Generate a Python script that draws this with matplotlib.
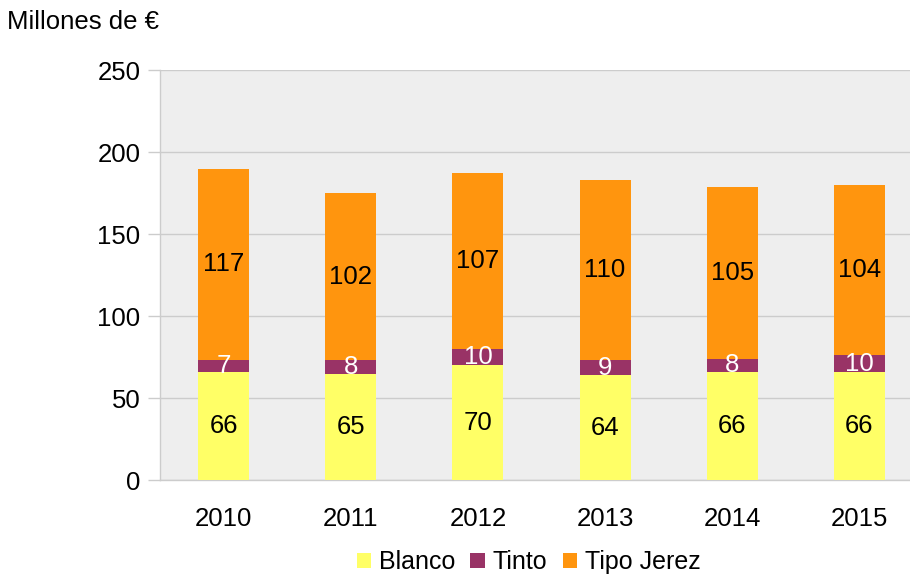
import matplotlib
matplotlib.use("Agg")
import matplotlib.pyplot as plt
import numpy as np

plt.rcParams['font.family'] = ['Liberation Sans', 'DejaVu Sans']

years = ['2010', '2011', '2012', '2013', '2014', '2015']
blanco = [66, 65, 70, 64, 66, 66]
tinto = [7, 8, 10, 9, 8, 10]
jerez = [117, 102, 107, 110, 105, 104]
series_names = ['Blanco', 'Tinto', 'Tipo Jerez']
colors = ['#FFFF66', '#993366', '#FF950E']
label_colors = ['black', 'white', 'black']

FS = 18.5
fig = plt.figure(figsize=(9.1, 5.75), dpi=100)
ax = fig.add_axes([0.1758, 0.165, 0.8385, 0.713])
ax.set_facecolor('#EEEEEE')

x = np.arange(len(years))
bottom = np.zeros(len(years))
handles = []
for vals, c, lc, name in zip([blanco, tinto, jerez], colors, label_colors, series_names):
    vals = np.array(vals, dtype=float)
    bars = ax.bar(x, vals, 0.4, bottom=bottom, color=c, label=name, zorder=3)
    handles.append(bars)
    for xi, b, v in zip(x, bottom, vals):
        ax.text(xi, b + v / 2, f'{int(v)}', ha='center', va='center',
                color=lc, fontsize=FS, zorder=4)
    bottom += vals

ax.set_xlim(-0.5, len(years) - 0.5)
ax.set_ylim(0, 250)
ax.set_yticks([0, 50, 100, 150, 200, 250])
ax.set_xticks(x)
ax.set_xticklabels(years)
ax.yaxis.grid(True, color='#CCCCCC', linewidth=1.0, zorder=0)
ax.set_axisbelow(True)
for s in ['top', 'right']:
    ax.spines[s].set_visible(False)
for s in ['left', 'bottom']:
    ax.spines[s].set_color('#CCCCCC')
    ax.spines[s].set_linewidth(1.0)
ax.tick_params(axis='y', length=9, width=1.0, color='#CCCCCC', labelsize=FS, pad=5)
ax.tick_params(axis='x', length=0, labelsize=FS, pad=19)

fig.text(0.008, 0.962, 'Millones de €', fontsize=FS, ha='left', va='center')

fig.legend(handles=handles, labels=series_names, loc='center', bbox_to_anchor=(0.581, 0.022),
           ncol=3, frameon=False, fontsize=18, handlelength=0.58, handleheight=0.58,
           handletextpad=0.32, columnspacing=0.6, borderaxespad=0, borderpad=0)

fig.savefig('out.png', dpi=100)
